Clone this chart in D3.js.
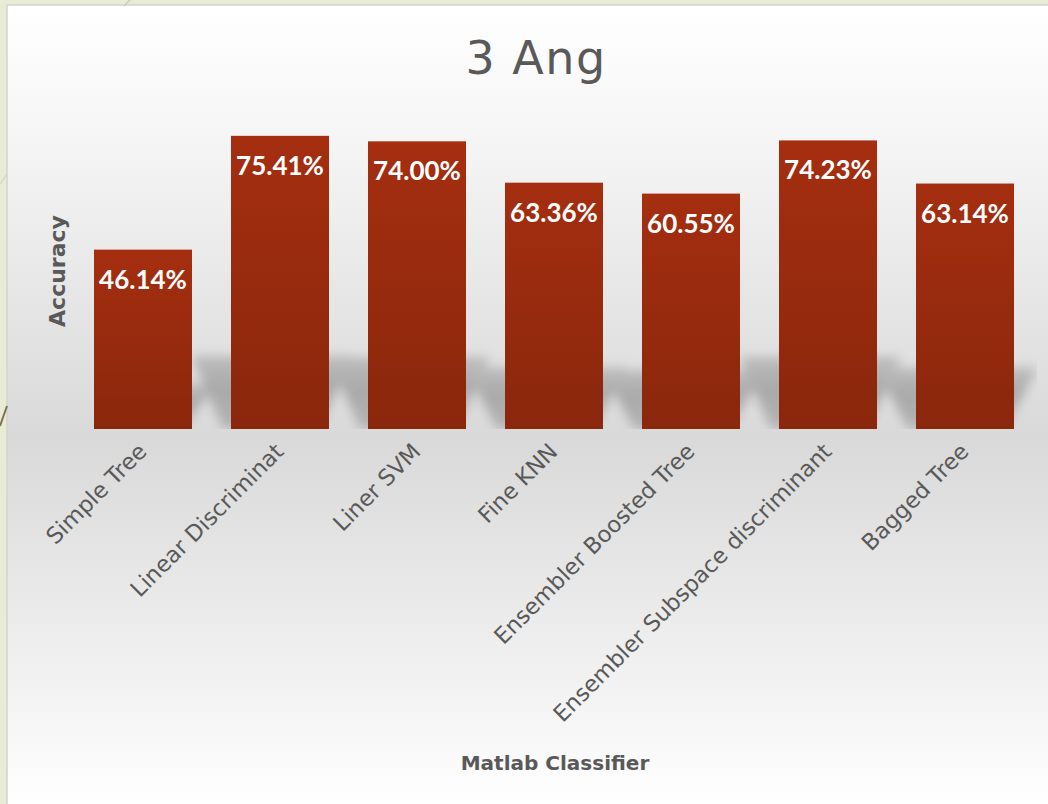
<!DOCTYPE html>
<html>
<head>
<meta charset="utf-8">
<script src="https://cdn.jsdelivr.net/npm/d3@7"></script>
<style>
  html, body { margin: 0; padding: 0; background: #e8ecd5; }
  svg { display: block; }
</style>
</head>
<body>
<svg id="chart" width="1048" height="804"></svg>
<script>
// Classifier accuracy for the "3 Ang" feature set
const classifiers = [
  "Simple Tree",
  "Linear Discriminat",
  "Liner SVM",
  "Fine KNN",
  "Ensembler Boosted Tree",
  "Ensembler Subspace discriminant",
  "Bagged Tree"
];
const accuracy = [46.14, 75.41, 74.00, 63.36, 60.55, 74.23, 63.14];
const chartTitle = "3 Ang";
const yAxisTitle = "Accuracy";
const xAxisTitle = "Matlab Classifier";

const W = 1048, H = 804;
const plot = { left: 74.5, right: 1033.5, top: 118, bottom: 429 };
const textColor = "#595959";

const rows = classifiers.map((c, i) => ({ name: c, value: accuracy[i] }));

const svg = d3.select("#chart");
const defs = svg.append("defs");

// slide panel gradient: white top, grey band at the floor, white bottom
const bg = defs.append("linearGradient").attr("id", "panelGrad")
  .attr("x1", 0).attr("y1", 0).attr("x2", 0).attr("y2", 1);
[[0, "#ffffff"], [0.14, "#f7f7f7"], [0.54, "#d9d9d9"], [0.86, "#f3f3f3"], [1, "#ffffff"]]
  .forEach(([o, c]) => bg.append("stop").attr("offset", o).attr("stop-color", c));

// bar fill gradient
const barGrad = defs.append("linearGradient").attr("id", "barGrad")
  .attr("x1", 0).attr("y1", 0).attr("x2", 0).attr("y2", 1);
barGrad.append("stop").attr("offset", 0).attr("stop-color", "#a52e10");
barGrad.append("stop").attr("offset", 1).attr("stop-color", "#8a270c");

// shadow fill: fades towards its top edge
const shGrad = defs.append("linearGradient").attr("id", "shadowGrad")
  .attr("x1", 0).attr("y1", 0).attr("x2", 0).attr("y2", 1);
shGrad.append("stop").attr("offset", 0).attr("stop-color", "#bdbdbd");
shGrad.append("stop").attr("offset", 0.45).attr("stop-color", "#a9a9a9");
shGrad.append("stop").attr("offset", 1).attr("stop-color", "#b4b4b4");

// soft shadow behind the bars
const blur = defs.append("filter").attr("id", "shadowBlur")
  .attr("x", "-50%").attr("y", "-50%").attr("width", "200%").attr("height", "200%");
blur.append("feGaussianBlur").attr("stdDeviation", 5.5);

defs.append("clipPath").attr("id", "plotClip")
  .append("rect").attr("x", 94).attr("y", 0).attr("width", 1037 - 94).attr("height", plot.bottom);

// background panel
svg.append("rect").attr("x", 7).attr("y", 5).attr("width", W - 7 + 2).attr("height", H - 5 + 2)
  .attr("fill", "url(#panelGrad)").attr("stroke", "#d2d2d2").attr("stroke-width", 1.5);

// decorative strokes on the slide border
svg.append("line").attr("x1", 0).attr("y1", 184).attr("x2", 7).attr("y2", 174)
  .attr("stroke", "#d6dac2").attr("stroke-width", 1.5);
svg.append("line").attr("x1", 0).attr("y1", 426).attr("x2", 7).attr("y2", 406)
  .attr("stroke", "#7d7258").attr("stroke-width", 2);
svg.append("line").attr("x1", 124).attr("y1", 6).attr("x2", 130).attr("y2", 0)
  .attr("stroke", "#c9cbbd").attr("stroke-width", 1.5);

const x = d3.scaleBand()
  .domain(classifiers)
  .range([plot.left, plot.right])
  .paddingInner(39 / 137)
  .paddingOuter(19.5 / 137);

const y = d3.scaleLinear().domain([0, 80]).range([plot.bottom, plot.top]);

// shadows
const shadowG = svg.append("g").attr("clip-path", "url(#plotClip)")
  .append("g").attr("filter", "url(#shadowBlur)");
shadowG.selectAll("polygon").data(rows).join("polygon")
  .attr("fill", "url(#shadowGrad)")
  .attr("points", d => {
    const x0 = x(d.name), x1 = x0 + x.bandwidth();
    const base = y(0);
    const hs = (base - y(d.value)) * 0.25;
    return [
      [x0 - 8, base], [x0 - 40, base - hs], [x1 + 24, base - hs], [x1 - 10, base]
    ].map(p => p.join(",")).join(" ");
  });

// bars
svg.append("g").selectAll("rect").data(rows).join("rect")
  .attr("x", d => x(d.name))
  .attr("y", d => y(d.value))
  .attr("width", x.bandwidth())
  .attr("height", d => y(0) - y(d.value))
  .attr("fill", "url(#barGrad)");

// value labels inside bar tops
svg.append("g").selectAll("text").data(rows).join("text")
  .attr("x", d => x(d.name) + x.bandwidth() / 2)
  .attr("y", d => y(d.value) + 39)
  .attr("text-anchor", "middle")
  .attr("font-family", "Lato, 'Noto Sans', sans-serif")
  .attr("font-weight", 700)
  .attr("font-size", 26)
  .attr("fill", "#ffffff")
  .text(d => d.value.toFixed(2) + "%");

// category axis (no domain line, no ticks)
const xAxis = svg.append("g")
  .attr("transform", `translate(0,${plot.bottom})`)
  .call(d3.axisBottom(x).tickSize(0).tickPadding(0));
xAxis.select(".domain").remove();
xAxis.selectAll(".tick text")
  .attr("font-family", "'DejaVu Sans', sans-serif")
  .attr("font-size", 22.5)
  .attr("fill", textColor)
  .attr("dy", 0)
  .attr("text-anchor", "end")
  .attr("transform", "translate(5,24) rotate(-45)");

// chart title
svg.append("text")
  .attr("x", 536).attr("y", 74)
  .attr("text-anchor", "middle")
  .attr("font-family", "'DejaVu Sans', sans-serif")
  .attr("font-size", 46)
  .attr("letter-spacing", 1.5)
  .attr("fill", textColor)
  .text(chartTitle);

// axis titles
svg.append("text")
  .attr("transform", "translate(65,271) rotate(-90)")
  .attr("text-anchor", "middle")
  .attr("font-family", "'DejaVu Sans', sans-serif")
  .attr("font-weight", 700)
  .attr("font-size", 22)
  .attr("fill", textColor)
  .text(yAxisTitle);

svg.append("text")
  .attr("x", 555).attr("y", 770)
  .attr("text-anchor", "middle")
  .attr("font-family", "'DejaVu Sans', sans-serif")
  .attr("font-weight", 700)
  .attr("font-size", 20)
  .attr("fill", textColor)
  .text(xAxisTitle);
</script>
</body>
</html>
